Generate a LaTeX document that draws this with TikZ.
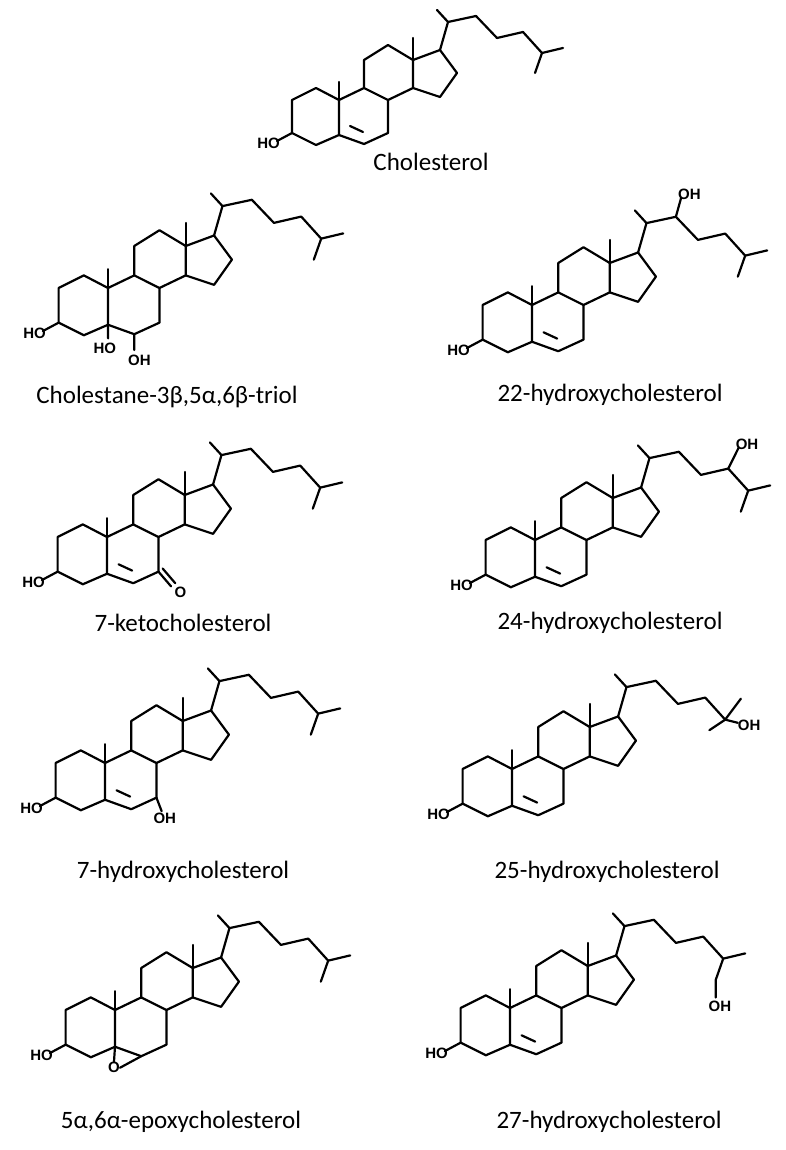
\documentclass[tikz,border=0pt]{standalone}
\usepackage{fontspec}
\setmainfont{Carlito}
\newfontfamily\atomfont{Liberation Sans}
\tikzset{
 bond/.style={line width=2.2pt,line join=round,line cap=round,black},
 atom/.style={font=\atomfont\bfseries\fontsize{15}{15}\selectfont,inner sep=0pt},
 molname/.style={font=\fontsize{25}{25}\selectfont,inner sep=0pt}
}
\newcommand\ringcore{%
 \coordinate (c1) at (-23,-12); \coordinate (c2) at (-47,0); \coordinate (c3) at (-47,33);
 \coordinate (c4) at (-23,45); \coordinate (c5) at (0,35); \coordinate (c10) at (0,0);
 \coordinate (c19) at (0,-18); \coordinate (c9) at (25,-12); \coordinate (c8) at (49,0);
 \coordinate (c7) at (49,33); \coordinate (c6) at (25,44); \coordinate (c11) at (25,-40);
 \coordinate (c12) at (49,-55); \coordinate (c13) at (74,-40); \coordinate (c14) at (74,-12);
 \coordinate (c18) at (74,-62); \coordinate (c17) at (101,-50); \coordinate (c16) at (118,-27);
 \coordinate (c15) at (101,-3);
 \coordinate (c20) at (109,-78); \coordinate (c21) at (98,-90); \coordinate (c22) at (137,-84);
 \coordinate (c23) at (158,-62); \coordinate (c24) at (184,-68); \coordinate (c25) at (203,-47);
 \coordinate (o3) at (-62,41);
 \draw[bond] (c10)--(c1)--(c2)--(c3)--(c4)--(c5)--(c10)--(c9)--(c8)--(c7)--(c6)--(c5);
 \draw[bond] (c9)--(c11)--(c12)--(c13)--(c14)--(c8);
 \draw[bond] (c13)--(c17)--(c16)--(c15)--(c14);
 \draw[bond] (c10)--(c19) (c13)--(c18);
 \draw[bond] (c17)--(c20)--(c22)--(c23)--(c24)--(c25) (c20)--(c21);
 \draw[bond] (c3)--(o3);
 \node[atom,anchor=east] (ho3) at ([xshift=3pt,yshift=-2pt]o3) {HO};
}
\newcommand\dbl{\draw[bond] (11,26)--(24,32);}
\newcommand\isoend{\draw[bond] (c25)--(224,-52) (c25)--(196,-27);}
\begin{document}
\begin{tikzpicture}[x=1pt,y=-1pt]
\useasboundingbox (0,0) rectangle (785,1150);
\fill[white] (0,0) rectangle (785,1150);
% 1 cholesterol
\begin{scope}[shift={(339,100)}]
 \ringcore \dbl \isoend
\end{scope}
\node[molname] (n1) at (431,162) {Cholesterol};
% 2 triol
\begin{scope}[shift={(108,288)},scale=1.05]
 \ringcore \isoend
 \draw[bond] (c5)--(0,48) (c6)--(25,59);
 \node[atom,anchor=north] (ho5) at (-3,52) {HO};
 \node[atom,anchor=north west] (oh6) at (19,64) {OH};
\end{scope}
\node[molname] (n2) at (167,397) {Cholestane-3β,5α,6β-triol};
% 3 22-OH
\begin{scope}[shift={(532,305)},scale=1.05]
 \ringcore \dbl \isoend
 \draw[bond] (c22)--(142,-102);
 \node[atom,anchor=south west] (oh22) at (139,-100) {OH};
\end{scope}
\node[molname] (n3) at (610,395) {22-hydroxycholesterol};
% 4 7-keto
\begin{scope}[shift={(107,537)},scale=1.05]
 \ringcore \dbl \isoend
 \draw[bond] (c7)--(61,47) (53,30)--(65,44);
 \node[atom,anchor=center] (o7) at (70,53) {O};
\end{scope}
\node[molname] (n4) at (183,623) {7-ketocholesterol};
% 5 24-OH
\begin{scope}[shift={(535,540)},scale=1.05]
 \ringcore \dbl \isoend
 \draw[bond] (c24)--(194,-88);
 \node[atom,anchor=south west] (oh24) at (191,-86) {OH};
\end{scope}
\node[molname] (n5) at (610,623) {24-hydroxycholesterol};
% 6 7-OH
\begin{scope}[shift={(105,763)},scale=1.05]
 \ringcore \dbl \isoend
 \draw[bond] (c7)--(54,46);
 \node[atom,anchor=north west] (oh7) at (46,47) {OH};
\end{scope}
\node[molname] (n6) at (183,872) {7-hydroxycholesterol};
% 7 25-OH
\begin{scope}[shift={(512,769)},scale=1.05]
 \ringcore \dbl
 \draw[bond] (c25)--(218,-67) (c25)--(188,-37) (c25)--(215,-44);
 \node[atom,anchor=west] (oh25) at (215,-42) {OH};
\end{scope}
\node[molname] (n7) at (607,872) {25-hydroxycholesterol};
% 8 epoxy
\begin{scope}[shift={(115,1010)},scale=1.05]
 \ringcore \isoend
 \node[atom] (oep) at (-1,55) {O};
 \draw[bond] (c5)--(oep.north) (c6)--(oep.east);
\end{scope}
\node[molname] (n8) at (181,1122) {5α,6α-epoxycholesterol};
% 9 27-OH
\begin{scope}[shift={(510,1008)},scale=1.05]
 \ringcore \dbl
 \draw[bond] (c25)--(224,-52) (c25)--(196,-27)--(196,-10);
 \node[atom,anchor=north west] (oh27) at (189,-7) {OH};
\end{scope}
\node[molname] (n9) at (609,1122) {27-hydroxycholesterol};
\end{tikzpicture}
\end{document}
